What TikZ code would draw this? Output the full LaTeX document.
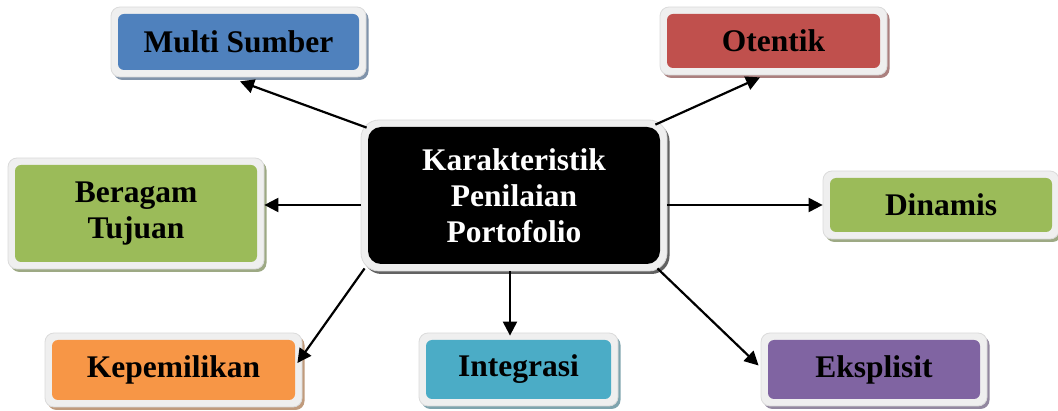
\documentclass[tikz,border=0pt]{standalone}
\usepackage{fontspec}
\setmainfont{Liberation Serif}
\usetikzlibrary{arrows.meta,calc}

\definecolor{kblue}{HTML}{4F81BD}
\definecolor{kred}{HTML}{C0504D}
\definecolor{kgreen}{HTML}{9BBB59}
\definecolor{korange}{HTML}{F79646}
\definecolor{kteal}{HTML}{4BACC6}
\definecolor{kpurple}{HTML}{8064A2}
\definecolor{kframe}{HTML}{EFEFEF}

\tikzset{
  framebox/.style={rounded corners=9pt, inner sep=0pt, fill=kframe, draw=black!14, line width=0.8pt},
  shadebox/.style={rounded corners=9pt, inner sep=0pt, draw=none},
  corebox/.style={rounded corners=6pt, inner sep=0pt, align=center,
    font=\fontsize{31.5}{36}\selectfont\bfseries},
  arr/.style={line width=2.2pt, -{Triangle[length=14pt,width=14pt]}},
}

% #1 name, #2 x, #3 y (centre), #4 width, #5 height, #6 colour, #7 text colour, #8 text
\newcommand\kbox[8]{%
  \node[shadebox, fill=#6!45!gray!85!white, minimum width=#4pt+14pt, minimum height=#5pt+14pt]
    (#1s) at (#2+2.5,#3+3) {};
  \node[framebox, minimum width=#4pt+14pt, minimum height=#5pt+14pt] (#1f) at (#2,#3) {};
  \node[corebox, fill=#6, text=#7, minimum width=#4pt, minimum height=#5pt] (#1) at (#2,#3) {#8};
}

\begin{document}
\begin{tikzpicture}[x=1pt,y=-1pt]
\useasboundingbox (0,0) rectangle (1058,411);

% central topic, with wider rounding
\begin{scope}[framebox/.append style={rounded corners=18pt},
              shadebox/.append style={rounded corners=18pt},
              corebox/.append style={rounded corners=13pt}]
  \kbox{c}{514}{195.5}{292}{137}{black}{white}{Karakteristik\\Penilaian\\Portofolio}
\end{scope}

% characteristics
\kbox{ms}{238.5}{42}{241}{56}{kblue}{black}{Multi Sumber}
\kbox{ot}{773.5}{41}{213}{54}{kred}{black}{Otentik}
\kbox{bt}{136}{213.5}{242}{97}{kgreen}{black}{Beragam\\Tujuan}
\kbox{di}{941}{205}{222}{54}{kgreen}{black}{Dinamis}
\kbox{ke}{173.5}{370}{243}{60}{korange}{black}{Kepemilikan}
\kbox{in}{518.5}{369.5}{185}{59}{kteal}{black}{Integrasi}
\kbox{ek}{874}{369.5}{212}{59}{kpurple}{black}{Eksplisit}

% connectors from the centre outwards
\draw[arr] ([xshift=6pt,yshift=-8pt]cf.north west) -- ([xshift=1.5pt,yshift=-4pt]msf.south);
\draw[arr] ([xshift=-12pt,yshift=-5pt]cf.north east) -- ([xshift=-13.5pt,yshift=-2pt]otf.south);
\draw[arr] ([yshift=-9.5pt]cf.west) -- ([yshift=-9.5pt]cf.west -| btf.east);
\draw[arr] ([yshift=-9.5pt]cf.east) -- ([yshift=-9.5pt]cf.east -| dif.west);
\draw[arr] ([xshift=4pt,yshift=3pt]cf.south west) -- ([xshift=-5pt,yshift=7pt]kef.east);
\draw[arr] ([xshift=-4pt]cf.south) -- ([xshift=-4pt,yshift=-3pt]cf.south |- inf.north);
\draw[arr] ([xshift=-10pt,yshift=3pt]cf.south east) -- ([xshift=-2pt,yshift=4pt]ekf.west);
\end{tikzpicture}
\end{document}
